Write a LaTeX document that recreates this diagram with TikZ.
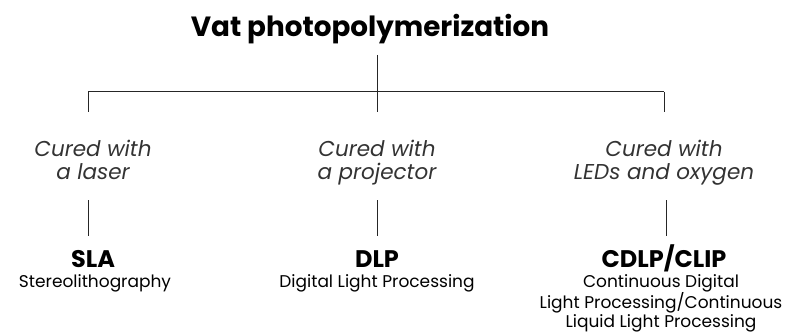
\documentclass[tikz,border=0pt]{standalone}
\usepackage{fontspec}
\setmainfont{Poppins}
\begin{document}
\begin{tikzpicture}[x=1pt,y=1pt,
  ttl/.style={inner sep=0pt,anchor=base,font=\fontsize{27.8}{32}\selectfont\bfseries},
  how/.style={inner sep=0pt,anchor=north,align=center,text=black!80,font=\fontsize{21.5}{22.5}\selectfont\itshape},
  nm/.style={inner sep=0pt,anchor=base,font=\fontsize{24}{28}\selectfont\bfseries},
  sub/.style={inner sep=0pt,anchor=north,align=center,font=\fontsize{17}{19}\selectfont},
  ln/.style={draw=black!85,line width=1pt}]
\useasboundingbox (0,0) rectangle (790,-334);
\node[ttl] (title) at (370,-37) {Vat photopolymerization};
\coordinate (ttop) at (377,-55);
\coordinate (j) at (377,-92);
\coordinate (jl) at (88,-92);
\coordinate (jr) at (664,-92);
\coordinate (dl) at (88,-112);
\coordinate (dm) at (377,-112);
\coordinate (dr) at (664,-112);
\node[how] (h1) at (93,-140) {Cured with\\a laser};
\node[how] (h2) at (377,-140) {Cured with\\a projector};
\node[how] (h3) at (664,-140) {Cured with\\LEDs and oxygen};
\coordinate (a1) at (88,-200); \coordinate (b1) at (88,-236);
\coordinate (a2) at (377,-200); \coordinate (b2) at (377,-236);
\coordinate (a3) at (666,-200); \coordinate (b3) at (666,-236);
\node[nm] (n1) at (93,-267) {SLA};
\node[nm] (n2) at (377,-267) {DLP};
\node[nm] (n3) at (664,-267) {CDLP/CLIP};
\node[sub] (s1) at (95,-274) {Stereolithography};
\node[sub] (s2) at (377,-274) {Digital Light Processing};
\node[sub] (s3) at (661,-274) {Continuous Digital\\Light Processing/Continuous\\Liquid Light Processing};
\draw[ln] (ttop) -- (j);
\draw[ln] (jl) -- (jr);
\draw[ln] (jl) -- (dl);
\draw[ln] (j) -- (dm);
\draw[ln] (jr) -- (dr);
\draw[ln] (a1) -- (b1);
\draw[ln] (a2) -- (b2);
\draw[ln] (a3) -- (b3);
\end{tikzpicture}
\end{document}
